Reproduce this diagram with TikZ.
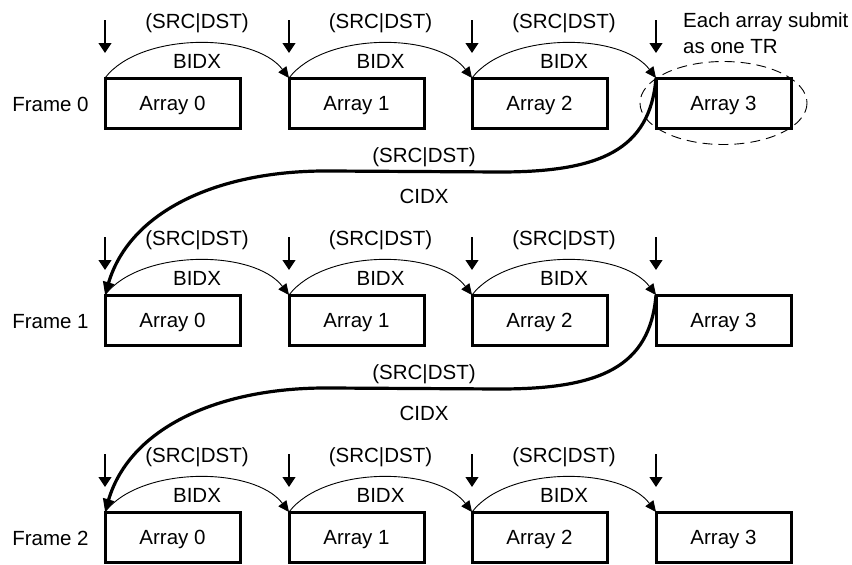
\documentclass[tikz,border=0pt]{standalone}
\usepackage{fontspec}
\setmainfont{Liberation Sans}
\usetikzlibrary{arrows.meta}
\begin{document}
\begin{tikzpicture}[x=1pt,y=-1pt,
  font=\fontsize{20.5}{24}\selectfont,
  arraybox/.style={draw, line width=3pt, minimum width=135pt, minimum height=50pt,
    outer sep=0pt, inner sep=0pt, text height=14.5pt, text depth=0pt},
  lbl/.style={anchor=base, inner sep=0pt},
  bidx/.style={line width=0.9pt, -{Triangle[length=11pt,width=10pt]}},
  cidx/.style={line width=3.2pt, -{Triangle[length=13pt,width=11pt]}},
  downarr/.style={line width=1.1pt, -{Triangle[length=10pt,width=13pt]}},
  trgroup/.style={line width=0.9pt, dash pattern=on 10pt off 6pt},
]
\useasboundingbox (0,0) rectangle (852,565);
\foreach \r in {0,1,2}{
  \pgfmathsetmacro{\cy}{103+217*\r}
  \node[lbl] (f\r) at (50.5,\cy+8) {Frame \r};
  \foreach \k/\cx in {0/172.5,1/356.5,2/539.5,3/723.5}{
    \node[arraybox] (a\r\k) at (\cx,\cy) {Array \k};
    \draw[downarr] ([yshift=58pt]a\r\k.north west) -- ([yshift=25pt]a\r\k.north west);
  }
  \foreach \k/\n/\mx in {0/1/197,1/2/380.5,2/3/564}{
    \draw[bidx] (a\r\k.north west) .. controls +(35,-46) and +(-35,-46) .. (a\r\n.north west);
    \node[lbl] (s\r\k) at (\mx,\cy-75) {(SRC|DST)};
    \node[lbl] (b\r\k) at (\mx,\cy-35) {BIDX};
  }
}
\foreach \r/\n in {0/1,1/2}{
  \pgfmathsetmacro{\cy}{103+217*\r}
  \draw[cidx] (a\r3.north west) .. controls +(-6,72) and +(100,0) .. ++(-156,94)
     -- ++(-170,-1) .. controls +(-110,-1) and +(25,-85) .. (a\n0.north west);
  \node[lbl] (cs\r) at (424,\cy+59) {(SRC|DST)};
  \node[lbl] (ci\r) at (424,\cy+100) {CIDX};
}
\draw[trgroup] (a03.center) ellipse [x radius=83.5, y radius=41.5];
\node[lbl, anchor=base west] (note1) at (683,27) {Each array submit};
\node[lbl, anchor=base west] (note2) at (683,53) {as one TR};
\end{tikzpicture}
\end{document}
